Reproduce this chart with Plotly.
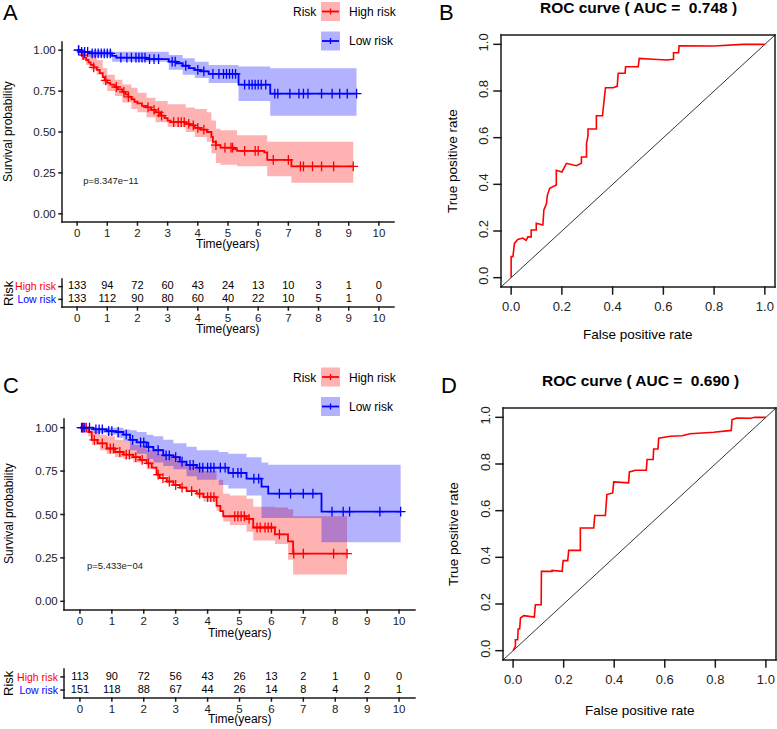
import numpy as np
import plotly.graph_objects as go

FONT = "Liberation Sans, Arial, sans-serif"
W, H = 777, 729
RED, BLUE = "#FF0000", "#0000FF"
PINK, LBLUE = "rgba(255,0,0,0.3)", "rgba(0,0,255,0.3)"
AXC = "#1a1a1a"

# ---------------- Panel A: KM (training) ----------------
hA_t = [0, 0.08, 0.15, 0.22, 0.30, 0.38, 0.45, 0.55, 0.65, 0.75, 0.85, 0.92, 1.00, 1.10, 1.25, 1.35, 1.50, 1.60, 1.70, 1.80,
        1.90, 2.00, 2.15, 2.30, 2.45, 2.60, 2.75, 2.90, 3.00, 3.10, 3.60, 3.75, 3.90, 4.10, 4.30, 4.45, 4.50, 4.60, 4.75, 5.20,
        5.30, 6.20, 6.30, 7.10]
hA_s = [1.0, 0.99, 0.97, 0.955, 0.94, 0.925, 0.91, 0.895, 0.88, 0.86, 0.835, 0.815, 0.80, 0.79, 0.775, 0.76, 0.745, 0.73, 0.715, 0.70,
        0.685, 0.675, 0.66, 0.65, 0.635, 0.62, 0.60, 0.585, 0.57, 0.56, 0.55, 0.54, 0.525, 0.515, 0.50, 0.47, 0.44, 0.42, 0.405, 0.395,
        0.385, 0.375, 0.33, 0.29]
hA_end = 9.15
hA_bt = [0, 0.15, 0.30, 0.45, 0.65, 0.85, 1.00, 1.25, 1.50, 1.80, 2.00, 2.30, 2.60, 3.00, 3.60, 3.90, 4.30, 4.45, 4.60, 4.75, 5.30, 6.30, 7.10]
hA_lo = [1.0, 0.94, 0.91, 0.88, 0.85, 0.79, 0.75, 0.72, 0.68, 0.64, 0.62, 0.59, 0.56, 0.53, 0.50, 0.47, 0.44, 0.37, 0.31, 0.30, 0.29, 0.23, 0.19]
hA_hi = [1.0, 1.0, 0.99, 0.97, 0.94, 0.89, 0.85, 0.82, 0.79, 0.77, 0.74, 0.71, 0.69, 0.67, 0.65, 0.64, 0.62, 0.57, 0.52, 0.51, 0.48, 0.44, 0.44]
hA_c = [0.05, 0.2, 0.55, 0.95, 1.3, 1.55, 1.7, 2.35, 2.55, 2.7, 2.8, 3.2, 3.35, 3.45, 3.55, 3.7, 3.85, 4.0, 4.2, 4.6, 4.9, 5.1,
        5.15, 5.55, 5.9, 6.0, 6.5, 7.0, 7.4, 7.5, 7.8, 8.1, 8.5, 9.15]

lA_t = [0, 0.10, 0.40, 1.16, 1.30, 2.30, 3.04, 3.30, 3.50, 3.70, 3.90, 4.10, 4.36, 5.35, 6.40]
lA_s = [1.0, 0.99, 0.98, 0.965, 0.955, 0.945, 0.93, 0.92, 0.905, 0.89, 0.88, 0.87, 0.855, 0.79, 0.735]
lA_end = 9.26
lA_bt = [0, 0.40, 1.16, 3.04, 3.50, 3.90, 4.36, 5.35, 6.40]
lA_lo = [1.0, 0.96, 0.93, 0.88, 0.85, 0.83, 0.80, 0.69, 0.60]
lA_hi = [1.0, 1.0, 0.99, 0.97, 0.95, 0.93, 0.91, 0.90, 0.89]
lA_c = [0.05, 0.15, 0.25, 0.35, 0.5, 0.6, 0.7, 0.8, 0.9, 1.0, 1.1, 1.45, 1.65, 1.8, 1.95, 2.05, 2.15, 2.25, 2.4, 2.55, 2.7,
        3.15, 3.25, 3.6, 4.0, 4.2, 4.5, 4.7, 4.85, 4.95, 5.05, 5.15, 5.25, 5.55, 5.7, 5.8, 5.9, 6.0, 6.1, 6.25, 6.55, 6.65,
        7.05, 7.35, 7.5, 7.65, 8.1, 8.45, 8.7, 8.95, 9.26]

# ---------------- Panel C: KM (validation) ----------------
hC_t = [0, 0.26, 0.37, 0.55, 0.84, 1.10, 1.36, 1.67, 1.88, 2.09, 2.25, 2.40, 2.50, 2.72, 2.93, 3.13, 3.34, 3.66, 3.87, 4.28,
        4.40, 4.49, 5.22, 5.43, 6.11, 6.52, 6.68]
hC_s = [1.0, 0.975, 0.93, 0.91, 0.88, 0.86, 0.845, 0.83, 0.815, 0.795, 0.77, 0.73, 0.71, 0.69, 0.67, 0.655, 0.635, 0.62, 0.60, 0.55,
        0.52, 0.49, 0.475, 0.425, 0.385, 0.345, 0.275]
hC_end = 8.37
hC_bt = [0, 0.26, 0.37, 0.63, 0.84, 1.10, 1.36, 1.67, 2.09, 2.40, 2.72, 3.13, 3.34, 3.66, 3.87, 4.28, 4.49, 4.70, 5.22, 5.43,
         6.11, 6.52, 6.68]
hC_hi = [1.0, 0.99, 0.98, 0.96, 0.95, 0.93, 0.92, 0.90, 0.87, 0.85, 0.83, 0.80, 0.79, 0.77, 0.75, 0.70, 0.62, 0.61, 0.59, 0.545,
         0.54, 0.53, 0.49]
hC_lo = [1.0, 0.95, 0.90, 0.87, 0.85, 0.83, 0.82, 0.80, 0.76, 0.72, 0.68, 0.65, 0.63, 0.60, 0.575, 0.52, 0.46, 0.44, 0.40, 0.35,
         0.33, 0.24, 0.155]
hC_c = [0.08, 0.2, 0.45, 0.7, 0.95, 1.05, 1.25, 1.45, 1.55, 1.75, 1.95, 2.15, 2.45, 2.6, 2.8, 3.0, 3.2, 3.5, 3.75, 4.0, 4.1,
        4.2, 4.85, 4.95, 5.05, 5.15, 5.3, 5.55, 5.65, 5.8, 5.9, 6.0, 6.25, 6.7, 7.0, 7.95, 8.37]

lC_t = [0, 0.42, 0.84, 1.15, 1.36, 1.57, 1.78, 2.09, 2.30, 2.61, 2.93, 3.13, 3.34, 3.66, 4.65, 5.22, 5.69, 5.90, 7.57]
lC_s = [1.0, 0.99, 0.98, 0.975, 0.96, 0.93, 0.915, 0.89, 0.87, 0.84, 0.83, 0.805, 0.785, 0.77, 0.74, 0.707, 0.66, 0.62, 0.517]
lC_end = 10.05
lC_bt = [0, 0.42, 0.84, 1.15, 1.36, 1.57, 1.78, 2.09, 2.30, 2.61, 2.93, 3.34, 3.66, 4.35, 4.65, 5.22, 5.69, 5.90, 7.57]
lC_lo = [1.0, 0.97, 0.96, 0.94, 0.92, 0.87, 0.85, 0.82, 0.80, 0.78, 0.76, 0.72, 0.70, 0.67, 0.65, 0.61, 0.48, 0.48, 0.34]
lC_hi = [1.0, 1.0, 1.0, 1.0, 0.99, 0.985, 0.975, 0.96, 0.95, 0.93, 0.91, 0.89, 0.87, 0.86, 0.85, 0.83, 0.80, 0.787, 0.787]
lC_c = [0.05, 0.1, 0.15, 0.3, 0.5, 0.6, 0.7, 0.9, 1.0, 1.2, 1.45, 1.65, 1.9, 2.0, 2.15, 2.45, 2.7, 2.8, 3.0, 3.2, 3.45,
        3.55, 3.75, 3.85, 4.0, 4.1, 4.2, 4.4, 4.55, 4.8, 4.95, 5.05, 5.45, 5.6, 6.25, 6.6, 7.0, 7.3, 7.9, 8.25, 8.45, 9.4, 10.05]

# ---------------- Risk tables ----------------
years = list(range(11))
A_high = [133, 94, 72, 60, 43, 24, 13, 10, 3, 1, 0]
A_low = [133, 112, 90, 80, 60, 40, 22, 10, 5, 1, 0]
C_high = [113, 90, 72, 56, 43, 26, 13, 2, 1, 0, 0]
C_low = [151, 118, 88, 67, 44, 26, 14, 8, 4, 2, 1]
risk_labels = ["High risk", "Low risk"]
risk_rows = [2, 1]

# ---------------- ROC curves ----------------
B_fpr = [0, 0, 0.007, 0.01, 0.013, 0.026, 0.046, 0.059, 0.066, 0.079, 0.079, 0.099, 0.099, 0.125, 0.129, 0.139, 0.143,
         0.152, 0.165, 0.178, 0.178, 0.20, 0.218, 0.257, 0.277, 0.277, 0.297, 0.297, 0.303, 0.303, 0.336, 0.336, 0.36,
         0.362, 0.369, 0.372, 0.402, 0.418, 0.422, 0.449, 0.451, 0.501, 0.505, 0.56, 0.613, 0.64, 0.64, 0.66, 0.662,
         0.80, 0.865, 0.911, 1.0]
B_tpr = [0, 0.09, 0.09, 0.127, 0.147, 0.164, 0.17, 0.16, 0.175, 0.175, 0.204, 0.204, 0.233, 0.226, 0.29, 0.317, 0.354,
         0.383, 0.39, 0.397, 0.46, 0.453, 0.49, 0.48, 0.49, 0.517, 0.517, 0.574, 0.61, 0.637, 0.637, 0.694, 0.694,
         0.723, 0.787, 0.814, 0.814, 0.82, 0.876, 0.876, 0.904, 0.904, 0.94, 0.936, 0.933, 0.936, 0.964, 0.964, 0.994,
         0.993, 0.997, 1.0, 1.0]
D_fpr = [0, 0.009, 0.009, 0.018, 0.02, 0.026, 0.029, 0.04, 0.042, 0.084, 0.088, 0.111, 0.112, 0.154, 0.154, 0.194, 0.198,
         0.216, 0.22, 0.266, 0.266, 0.319, 0.323, 0.365, 0.369, 0.371, 0.394, 0.398, 0.457, 0.46, 0.484, 0.527, 0.53,
         0.554, 0.556, 0.573, 0.576, 0.622, 0.668, 0.70, 0.793, 0.819, 0.863, 0.866, 0.885, 0.938, 0.958, 1.0]
D_tpr = [0, 0.019, 0.047, 0.047, 0.093, 0.093, 0.14, 0.147, 0.15, 0.144, 0.197, 0.197, 0.34, 0.34, 0.344, 0.34, 0.386,
         0.386, 0.43, 0.43, 0.526, 0.526, 0.579, 0.579, 0.626, 0.669, 0.676, 0.723, 0.719, 0.766, 0.773, 0.773, 0.819,
         0.819, 0.864, 0.864, 0.911, 0.919, 0.921, 0.93, 0.936, 0.94, 0.944, 0.99, 0.997, 0.996, 1.0, 1.0]
diag = [-0.04, 1.04]
B_auc, D_auc = "0.748", "0.690"
pA, pC = "p=8.347e\u221211", "p=5.433e\u221204"
km_yticks = [0, 0.25, 0.5, 0.75, 1.0]
roc_ticks = [0, 0.2, 0.4, 0.6, 0.8, 1.0]

# ---------------- helpers ----------------
def PX(x):
    return x / W

def PY(y):
    return 1 - y / H

def dom_x(a, b):
    return [PX(a), PX(b)]

def dom_y(top, bot):
    return [PY(bot), PY(top)]

def step_at(t, s, tc):
    idx = np.searchsorted(np.asarray(t), np.asarray(tc), side="right") - 1
    return list(np.asarray(s)[idx])

fig = go.Figure()

def add_band(t, lo, hi, end, color, xa, ya):
    tt = list(t) + [end]
    fig.add_trace(go.Scatter(x=tt, y=list(lo) + [lo[-1]], mode="lines", line=dict(width=0, shape="hv"),
                             xaxis=xa, yaxis=ya, hoverinfo="skip", showlegend=False))
    fig.add_trace(go.Scatter(x=tt, y=list(hi) + [hi[-1]], mode="lines", line=dict(width=0, shape="hv"),
                             fill="tonexty", fillcolor=color, xaxis=xa, yaxis=ya, hoverinfo="skip", showlegend=False))

def add_curve(t, s, end, cens, color, xa, ya):
    fig.add_trace(go.Scatter(x=list(t) + [end], y=list(s) + [s[-1]], mode="lines",
                             line=dict(color=color, width=1.8, shape="hv"), xaxis=xa, yaxis=ya, showlegend=False))
    fig.add_trace(go.Scatter(x=cens, y=step_at(t, s, cens), mode="markers",
                             marker=dict(symbol="cross-thin", size=7, line=dict(color=color, width=1.3)),
                             xaxis=xa, yaxis=ya, showlegend=False))

add_band(hA_bt, hA_lo, hA_hi, hA_end, PINK, "x", "y")
add_band(lA_bt, lA_lo, lA_hi, lA_end, LBLUE, "x", "y")
add_curve(hA_t, hA_s, hA_end, hA_c, RED, "x", "y")
add_curve(lA_t, lA_s, lA_end, lA_c, BLUE, "x", "y")
fig.add_trace(go.Scatter(x=[0.2], y=[0.195], mode="text", text=[pA], textposition="middle right",
                         textfont=dict(size=9.5, color="#222", family=FONT), xaxis="x", yaxis="y", showlegend=False))
for row, vals in zip(risk_rows, (A_high, A_low)):
    fig.add_trace(go.Scatter(x=years, y=[row] * len(years), mode="text", text=[str(v) for v in vals],
                             textfont=dict(size=11, color="black", family=FONT), xaxis="x2", yaxis="y2", showlegend=False))
fig.add_trace(go.Scatter(x=diag, y=diag, mode="lines", line=dict(color="black", width=0.8),
                         xaxis="x3", yaxis="y3", showlegend=False))
fig.add_trace(go.Scatter(x=B_fpr, y=B_tpr, mode="lines", line=dict(color=RED, width=1.6),
                         xaxis="x3", yaxis="y3", showlegend=False))
add_band(hC_bt, hC_lo, hC_hi, hC_end, PINK, "x4", "y4")
add_band(lC_bt, lC_lo, lC_hi, lC_end, LBLUE, "x4", "y4")
add_curve(hC_t, hC_s, hC_end, hC_c, RED, "x4", "y4")
add_curve(lC_t, lC_s, lC_end, lC_c, BLUE, "x4", "y4")
fig.add_trace(go.Scatter(x=[0.22], y=[0.2], mode="text", text=[pC], textposition="middle right",
                         textfont=dict(size=9.5, color="#222", family=FONT), xaxis="x4", yaxis="y4", showlegend=False))
for row, vals in zip(risk_rows, (C_high, C_low)):
    fig.add_trace(go.Scatter(x=years, y=[row] * len(years), mode="text", text=[str(v) for v in vals],
                             textfont=dict(size=11, color="black", family=FONT), xaxis="x5", yaxis="y5", showlegend=False))
fig.add_trace(go.Scatter(x=diag, y=diag, mode="lines", line=dict(color="black", width=0.8),
                         xaxis="x6", yaxis="y6", showlegend=False))
fig.add_trace(go.Scatter(x=D_fpr, y=D_tpr, mode="lines", line=dict(color=RED, width=1.6),
                         xaxis="x6", yaxis="y6", showlegend=False))

# ---------------- axes ----------------
base = dict(showgrid=False, zeroline=False, showline=False,
            ticks="outside", ticklen=3, tickcolor="rgba(0,0,0,0)", tickwidth=1,
            tickfont=dict(size=11.5, color="#222", family=FONT))
km_x = dict(base, range=[-0.5, 10.5], tickvals=years, ticklabelstandoff=-3)
km_y = dict(base, range=[-0.05, 1.05], tickvals=km_yticks, tickformat=".2f")
tab_y = dict(base, range=[0.4, 2.6], tickvals=risk_rows,
             ticktext=['<span style="color:#FF0000">%s</span>' % risk_labels[0],
                       '<span style="color:#0000FF">%s</span>' % risk_labels[1]],
             tickfont=dict(size=10.5, family=FONT))
roc = dict(base, range=[-0.04, 1.04], ticklen=7, tickvals=roc_ticks,
           tickformat=".1f", tickfont=dict(size=13, color="#222", family=FONT))

boxes = {
    "1": (62, 394, 42, 222), "2": (62, 394, 279, 307), "3": (501, 775, 35, 287),
    "4": (64, 415, 419, 610), "5": (64, 415, 669, 698), "6": (503, 776, 408, 660),
}
specs = {"1": (km_x, km_y), "2": (km_x, tab_y), "3": (roc, roc), "4": (km_x, km_y), "5": (km_x, tab_y), "6": (roc, roc)}

def ax_id(k, letter):
    return letter if k == "1" else letter + k

layout_axes = {}
for k, (xs, ys) in specs.items():
    l, r, t, b = boxes[k]
    xk = "xaxis" if k == "1" else "xaxis" + k
    yk = "yaxis" if k == "1" else "yaxis" + k
    layout_axes[xk] = dict(xs, domain=dom_x(l, r), anchor=ax_id(k, "y"))
    yd = dict(ys, domain=dom_y(t, b), anchor=ax_id(k, "x"))
    if k in ("3", "6"):
        yd["tickangle"] = -90
    layout_axes[yk] = yd
fig.update_layout(template="none", **layout_axes)

# axis lines & tick marks drawn as thin filled rectangles (paper coordinates)
shapes = []
HALF = 0.75

def bar(x0, y0, x1, y1):
    shapes.append(dict(type="rect", xref="paper", yref="paper",
                       x0=PX(min(x0, x1) - HALF), x1=PX(max(x0, x1) + HALF),
                       y0=PY(max(y0, y1) + HALF), y1=PY(min(y0, y1) - HALF),
                       fillcolor=AXC, line=dict(width=0), layer="above"))

def frame(k, xticks, yticks, ticklen, box):
    l, r, t, b = boxes[k]
    xs, ys = specs[k]
    xr, yr = xs["range"], ys["range"]
    bar(l, b, r, b)
    bar(l, t, l, b)
    if box:
        bar(l, t, r, t)
        bar(r, t, r, b)
    for v in xticks:
        p = l + (v - xr[0]) / (xr[1] - xr[0]) * (r - l)
        bar(p, b, p, b + ticklen)
    for v in yticks:
        p = b - (v - yr[0]) / (yr[1] - yr[0]) * (b - t)
        bar(l - ticklen, p, l, p)

frame("1", years, km_yticks, 3, False)
frame("2", years, risk_rows, 3, False)
frame("3", roc_ticks, roc_ticks, 7, True)
frame("4", years, km_yticks, 3, False)
frame("5", years, risk_rows, 3, False)
frame("6", roc_ticks, roc_ticks, 7, True)

# ---------------- annotations / legend ----------------
ann = []

def txt(x, y, s, size=12, angle=0, xanchor="center", bold=False, color="black"):
    if bold:
        s = "<b>%s</b>" % s
    ann.append(dict(x=PX(x), y=PY(y), xref="paper", yref="paper", text=s, showarrow=False,
                    xanchor=xanchor, yanchor="middle", textangle=angle,
                    font=dict(size=size, color=color, family=FONT)))

txt(1, 13, "A", 22, xanchor="left")
txt(437, 12, "B", 22, xanchor="left")
txt(1, 386, "C", 22, xanchor="left")
txt(439, 385, "D", 22, xanchor="left")
txt(8, 132, "Survival probability", 12, angle=-90)
txt(228, 244, "Time(years)", 12)
txt(228, 329, "Time(years)", 12)
txt(8, 293, "Risk", 13, angle=-90)
txt(9, 514, "Survival probability", 12, angle=-90)
txt(240, 633, "Time(years)", 12)
txt(240, 719, "Time(years)", 12)
txt(8, 683, "Risk", 13, angle=-90)
txt(638, 8, "ROC curve ( AUC =\u00a0\u00a0%s )" % B_auc, 15.5, bold=True)
txt(638, 335, "False positive rate", 13.5)
txt(452, 161, "True positive rate", 13.5, angle=-90)
txt(640, 381, "ROC curve ( AUC =\u00a0\u00a0%s )" % D_auc, 15.5, bold=True)
txt(640, 710, "False positive rate", 13.5)
txt(453, 534, "True positive rate", 13.5, angle=-90)

def legend(top):
    txt(291, top + 10, "Risk", 12, xanchor="left")
    for i, (lab, fc, lc) in enumerate(((risk_labels[0], PINK, RED), (risk_labels[1], LBLUE, BLUE))):
        y0 = top + i * 29.5
        shapes.append(dict(type="rect", xref="paper", yref="paper", x0=PX(321), x1=PX(340), y0=PY(y0 + 19), y1=PY(y0),
                           fillcolor=fc, line=dict(width=0), layer="above"))
        shapes.append(dict(type="line", xref="paper", yref="paper", x0=PX(322), x1=PX(339), y0=PY(y0 + 9.5), y1=PY(y0 + 9.5),
                           line=dict(color=lc, width=1.8)))
        shapes.append(dict(type="line", xref="paper", yref="paper", x0=PX(330.5), x1=PX(330.5), y0=PY(y0 + 6.5), y1=PY(y0 + 12.5),
                           line=dict(color=lc, width=1.3)))
        txt(347, y0 + 10, lab, 12, xanchor="left")

legend(2)
legend(367.5)

fig.update_layout(
    width=W, height=H, margin=dict(l=0, r=0, t=0, b=0, pad=0),
    paper_bgcolor="white", plot_bgcolor="rgba(0,0,0,0)", showlegend=False,
    annotations=ann, shapes=shapes, font=dict(family=FONT, color="black"),
)

fig.write_html("out.html", config={"displayModeBar": False},
               post_script="document.body.style.margin='0';document.body.style.padding='0';")
